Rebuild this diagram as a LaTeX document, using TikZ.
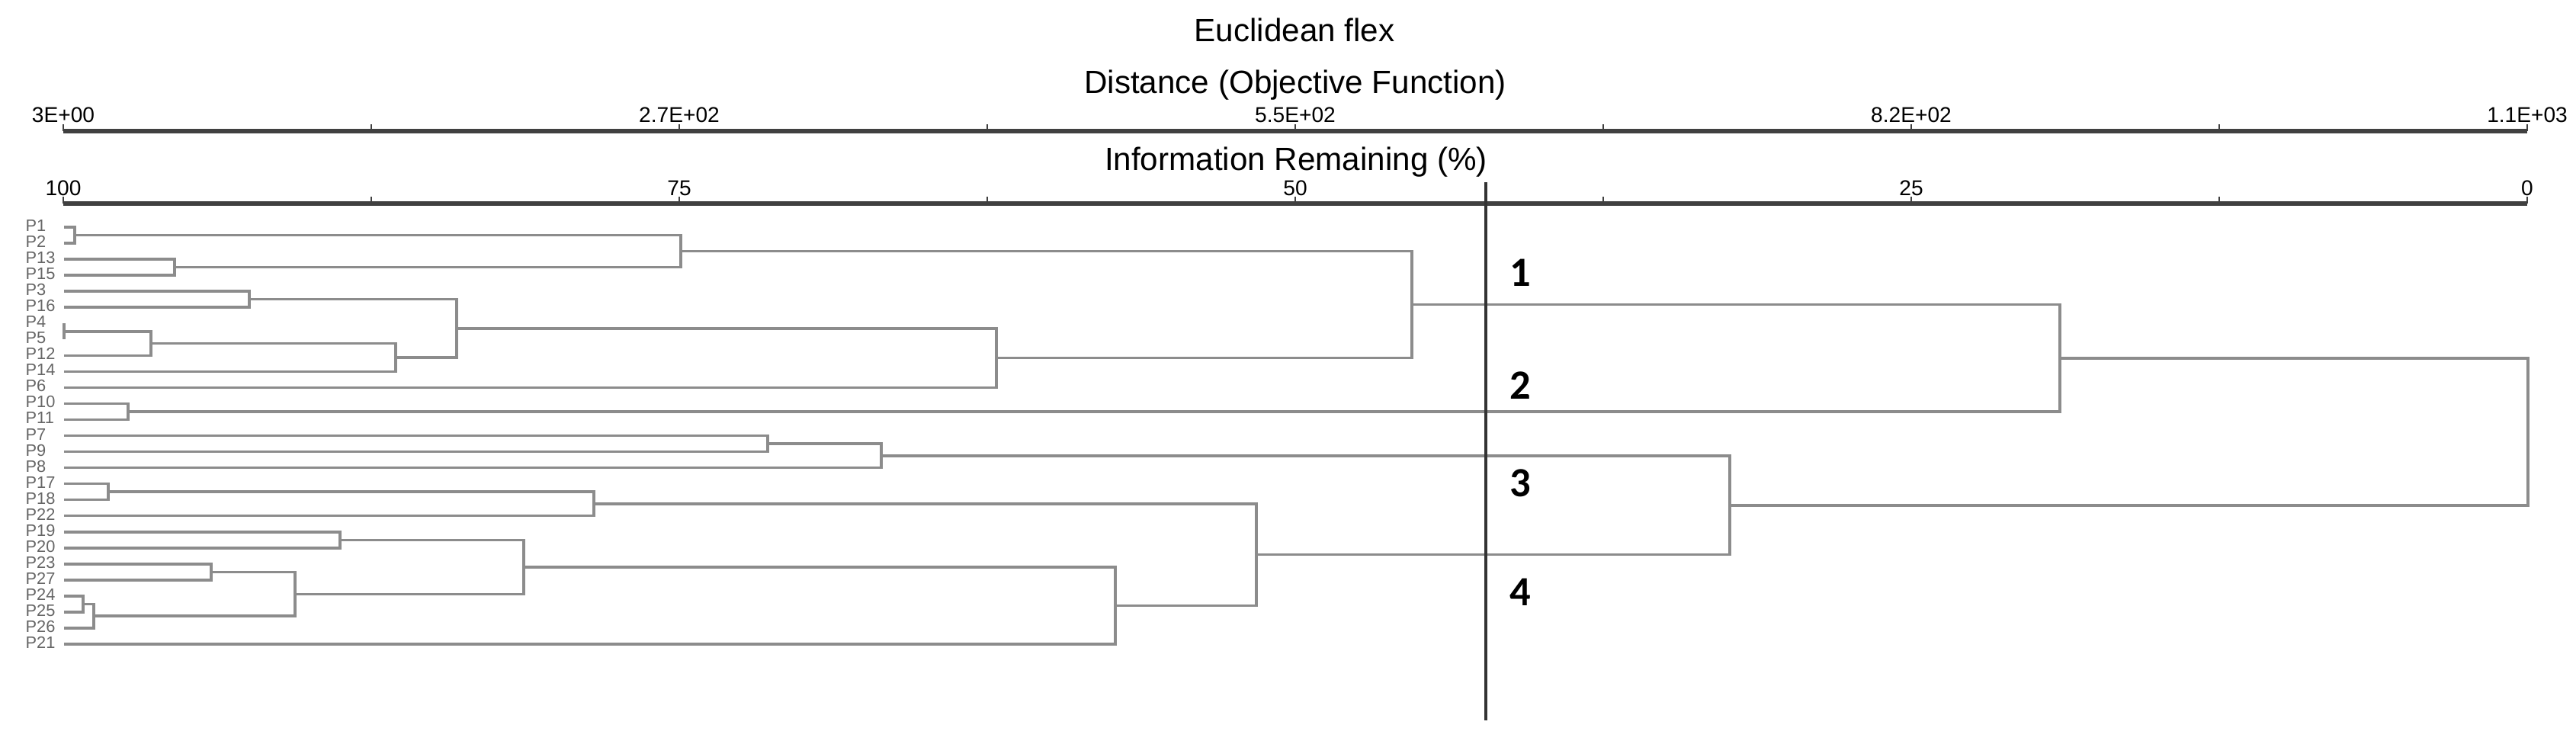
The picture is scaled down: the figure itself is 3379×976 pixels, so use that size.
\documentclass[tikz,border=0pt]{standalone}
\usepackage{fontspec}
\setmainfont{Liberation Sans}
\newfontfamily\groupfont{Carlito}
\usetikzlibrary{calc}

% join two clusters (upper, lower) at merge position x, name the new cluster
\newcommand{\joinpair}[4]{%
  \coordinate (#4x) at (#3,0);
  \draw[branch] (#1) -- (#1 -| #4x) -- (#2 -| #4x) -- (#2);
  \coordinate (#4) at ($(#1 -| #4x)!0.5!(#2 -| #4x)$);
}

\begin{document}
\begin{tikzpicture}[x=0.01cm, y=-0.01cm,
  every node/.style={font=\fontsize{8}{9}\selectfont, inner sep=0pt},
  branch/.style={draw=black!45, line width=1pt},
  axisline/.style={draw=black!75, line width=1.5pt},
  tickline/.style={draw=black!75, line width=0.8pt},
  headlab/.style={anchor=base, font=\fontsize{12}{14}\selectfont},
  leaflab/.style={anchor=west, text=black!60, font=\fontsize{6.2}{7}\selectfont},
  grouplab/.style={anchor=west, font=\groupfont\bfseries\fontsize{15.5}{17}\selectfont},
  cutline/.style={draw=black!80, line width=1.2pt}]

  \useasboundingbox (0,0) rectangle (3379,976);

  % Titles
  \node[headlab] (title) at (1698,55) {Euclidean flex};
  \node[headlab] (distlab) at (1699,123) {Distance (Objective Function)};
  \node[headlab] (infolab) at (1700,223) {Information Remaining (\%)};

  % Distance axis
  \coordinate (dA) at (83,172);
  \coordinate (dB) at (3315,172);
  \draw[axisline] (dA) -- (dB);
  \foreach \k in {0,...,8} {
    \draw[tickline] ($(dA)+(404*\k,0)$) -- ++(0,-9);
  }
  \foreach \k/\t in {0/3E+00, 2/2.7E+02, 4/5.5E+02, 6/8.2E+02, 8/1.1E+03} {
    \node[anchor=base] (dt\k) at ({83+404*\k},160) {\t};
  }

  % Information axis
  \coordinate (iA) at (83,267);
  \coordinate (iB) at (3315,267);
  \draw[axisline] (iA) -- (iB);
  \foreach \k in {0,...,8} {
    \draw[tickline] ($(iA)+(404*\k,0)$) -- ++(0,-9);
  }
  \foreach \k/\t in {0/100, 2/75, 4/50, 6/25, 8/0} {
    \node[anchor=base] (it\k) at ({83+404*\k},257) {\t};
  }

  % Leaves
  \foreach \lab [count=\i] in {P1,P2,P13,P15,P3,P16,P4,P5,P12,P14,P6,P10,P11,P7,P9,P8,P17,P18,P22,P19,P20,P23,P27,P24,P25,P26,P21} {
    \node[leaflab] (\lab) at (33,{296+21.04*(\i-1)}) {\lab};
    \coordinate (l\lab) at (84,{298+21.04*(\i-1)});
  }

  % Upper group
  \joinpair{lP1}{lP2}{98}{c12}
  \joinpair{lP13}{lP15}{229}{c1315}
  \joinpair{c12}{c1315}{893}{cA}
  \joinpair{lP3}{lP16}{327}{c316}
  \joinpair{lP4}{lP5}{84}{c45}
  \joinpair{c45}{lP12}{198}{c4512}
  \joinpair{c4512}{lP14}{519}{c4514}
  \joinpair{c316}{c4514}{599}{cB}
  \joinpair{cB}{lP6}{1307}{cC}
  \joinpair{cA}{cC}{1852}{cD}
  \joinpair{lP10}{lP11}{168}{c1011}
  \joinpair{cD}{c1011}{2702}{cE}

  % Lower group
  \joinpair{lP7}{lP9}{1007}{c79}
  \joinpair{c79}{lP8}{1156}{c798}
  \joinpair{lP17}{lP18}{142}{c1718}
  \joinpair{c1718}{lP22}{779}{cF}
  \joinpair{lP19}{lP20}{446}{c1920}
  \joinpair{lP23}{lP27}{277}{c2327}
  \joinpair{lP24}{lP25}{109}{c2425}
  \joinpair{c2425}{lP26}{123}{c2426}
  \joinpair{c2327}{c2426}{387}{cG}
  \joinpair{c1920}{cG}{687}{cH}
  \joinpair{cH}{lP21}{1463}{cI}
  \joinpair{cF}{cI}{1648}{cJ}
  \joinpair{c798}{cJ}{2269}{cK}

  % Root
  \joinpair{cE}{cK}{3316}{root}

  % Cut and groups
  \coordinate (cuttop) at (1949,239);
  \coordinate (cutbot) at (1949,945);
  \draw[cutline] (cuttop) -- (cutbot);
  \node[grouplab] (g1) at (1980,358) {1};
  \node[grouplab] (g2) at (1980,506) {2};
  \node[grouplab] (g3) at (1980,634) {3};
  \node[grouplab] (g4) at (1980,777) {4};
\end{tikzpicture}
\end{document}
